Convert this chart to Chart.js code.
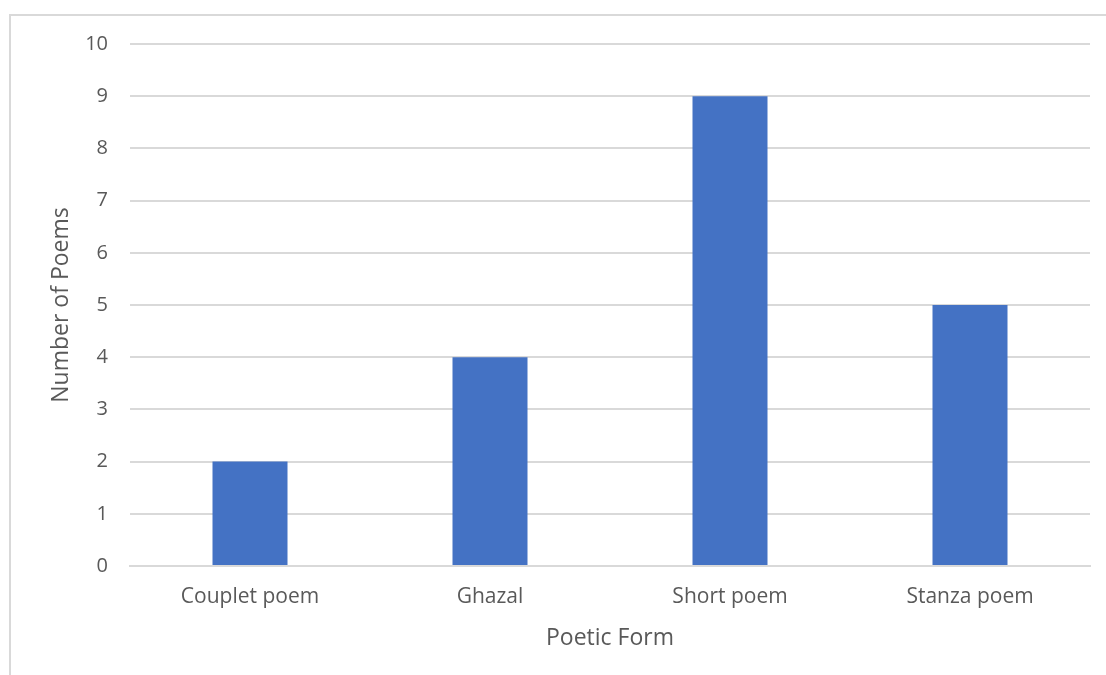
<!DOCTYPE html>
<html>
<head>
<meta charset="utf-8">
<script src="https://cdn.jsdelivr.net/npm/chart.js@4"></script>
<style>
  html, body { margin: 0; padding: 0; background: #fff; }
  #wrap { position: relative; width: 1106px; height: 675px; overflow: hidden; }
  #frame {
    position: absolute; left: 9px; top: 14px; width: 1110px; height: 700px;
    border: 2px solid #d9d9d9; box-sizing: border-box;
  }
  #chart { position: absolute; left: 0; top: 0; }
</style>
</head>
<body>
<div id="wrap">
  <div id="frame"></div>
  <canvas id="chart" width="1106" height="675"></canvas>
</div>
<script>
const forms = ['Couplet poem', 'Ghazal', 'Short poem', 'Stanza poem'];
const poemCounts = [2, 4, 9, 5];
const yTicks = [0, 1, 2, 3, 4, 5, 6, 7, 8, 9, 10];

const fontFamily = '"Open Sans", sans-serif';
const textColor = '#595959';

const config = {
  type: 'bar',
  data: {
    labels: forms,
    datasets: [{
      label: 'Number of Poems',
      data: poemCounts,
      backgroundColor: '#4472c4',
      borderWidth: 0,
      barPercentage: 0.3125,
      categoryPercentage: 1
    }]
  },
  options: {
    responsive: false,
    animation: false,
    layout: { padding: { top: 44, right: 16, left: 0, bottom: 0 } },
    plugins: {
      legend: { display: false },
      tooltip: { enabled: false }
    },
    scales: {
      x: {
        grid: { display: false, drawTicks: false },
        border: { color: '#d9d9d9', width: 2 },
        ticks: { color: textColor, font: { family: fontFamily, size: 21 }, padding: 18 },
        title: {
          display: true,
          text: 'Poetic Form',
          color: textColor,
          font: { family: fontFamily, size: 23 },
          padding: { top: 0, bottom: 23 }
        },
        afterFit: (scale) => { scale.height = 109; }
      },
      y: {
        min: 0,
        max: 10,
        afterBuildTicks: (scale) => { scale.ticks = yTicks.map(v => ({ value: v })); },
        grid: { color: '#d9d9d9', lineWidth: 2, drawTicks: false },
        border: { display: false },
        ticks: { color: textColor, font: { family: fontFamily, size: 20 }, padding: 22 },
        title: {
          display: true,
          text: 'Number of Poems',
          color: textColor,
          font: { family: fontFamily, size: 23 },
          padding: { top: 48, bottom: 0 }
        },
        afterFit: (scale) => { scale.width = 130; }
      }
    }
  }
};

new Chart(document.getElementById('chart'), config);
</script>
</body>
</html>
